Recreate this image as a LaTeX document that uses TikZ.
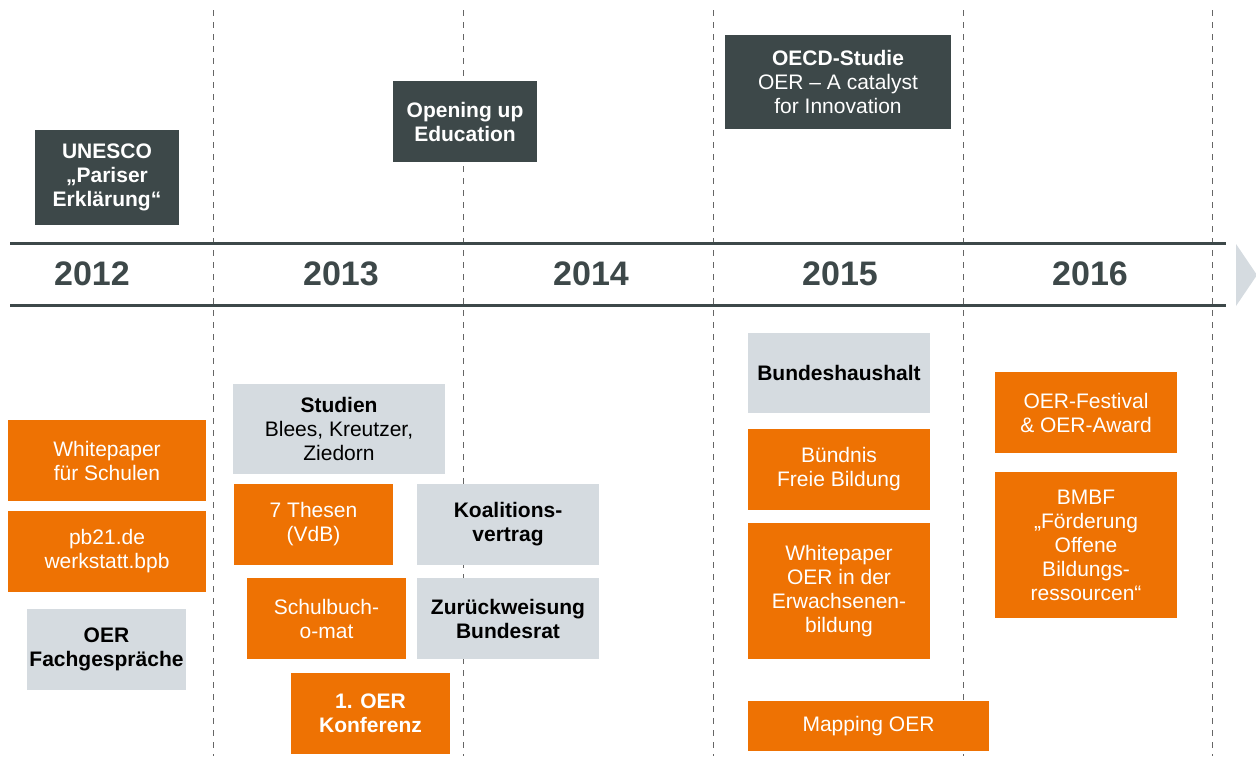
\documentclass[tikz,border=0pt]{standalone}
\usepackage{fontspec}
\setmainfont{Liberation Sans}
\definecolor{oerorange}{HTML}{EE7203}
\definecolor{oergray}{HTML}{D5DBE0}
\definecolor{oerdark}{HTML}{3D4849}
\tikzset{
  box/.style={shape=rectangle,inner sep=0pt,align=center,font=\fontsize{10.5}{12}\selectfont},
  orangebox/.style={box,fill=oerorange,text=white},
  graybox/.style={box,fill=oergray,text=black},
  darkbox/.style={box,fill=oerdark,text=white,font=\fontsize{10.5}{12}\selectfont\bfseries},
  yearlabel/.style={text=oerdark,font=\fontsize{17}{20}\selectfont\bfseries}
}
\begin{document}
\begin{tikzpicture}[x=0.5pt,y=-0.5pt]
\useasboundingbox (0,0) rectangle (1256,756);
\foreach \x in {213,463,713,963,1212}
  \draw [gray!80!black,line width=0.5pt,dash pattern=on 3pt off 3pt] (\x,10) -- (\x,756);
\coordinate (l1) at (10,243);
\coordinate (r1) at (1226,243);
\coordinate (l2) at (10,305);
\coordinate (r2) at (1226,305);
\draw [oerdark,line width=1.5pt] (l1) -- (r1);
\draw [oerdark,line width=1.5pt] (l2) -- (r2);
\fill [oergray] (1236,244) -- (1257,275) -- (1236,306) -- cycle;
\node (y2012) at (92,274) [yearlabel] {2012};
\node (y2013) at (341,274) [yearlabel] {2013};
\node (y2014) at (591,274) [yearlabel] {2014};
\node (y2015) at (840,274) [yearlabel] {2015};
\node (y2016) at (1090,274) [yearlabel] {2016};
% above the line
\node (unesco) at (107,177.5) [darkbox,minimum width=72pt,minimum height=47.5pt] {UNESCO\\„Pariser\\Erklärung“};
\node (opening) at (465,121.5) [darkbox,minimum width=72pt,minimum height=40.5pt] {Opening up\\Education};
\node (oecd) at (838,82) [darkbox,minimum width=113pt,minimum height=47pt] {OECD-Studie\\\mdseries OER – A catalyst\\\mdseries for Innovation};
% 2012
\node (white) at (107,460.5) [orangebox,minimum width=99pt,minimum height=40.5pt] {Whitepaper\\für Schulen};
\node (pb) at (107,551.5) [orangebox,minimum width=99pt,minimum height=40.5pt] {pb21.de\\werkstatt.bpb};
\node (fach) at (106.5,649.5) [graybox,minimum width=79.5pt,minimum height=40.5pt,font=\fontsize{10.5}{12}\selectfont\bfseries] {OER\\Fachgespräche};
% 2013 / 2014
\node (studien) at (339,429) [graybox,minimum width=106pt,minimum height=45pt] {\textbf{Studien}\\Blees, Kreutzer,\\Ziedorn};
\node (thesen) at (313.5,524.5) [orangebox,minimum width=79.5pt,minimum height=40.5pt] {7 Thesen\\(VdB)};
\node (koal) at (508,524.5) [graybox,minimum width=91pt,minimum height=40.5pt,font=\fontsize{10.5}{12}\selectfont\bfseries] {Koalitions-\\vertrag};
\node (schulbuch) at (326.5,618.5) [orangebox,minimum width=79.5pt,minimum height=40.5pt] {Schulbuch-\\o-mat};
\node (zurueck) at (508,618.5) [graybox,minimum width=91pt,minimum height=40.5pt,font=\fontsize{10.5}{12}\selectfont\bfseries] {Zurückweisung\\Bundesrat};
\node (konf) at (370.5,713.5) [orangebox,minimum width=79.5pt,minimum height=40.5pt,font=\fontsize{10.5}{12}\selectfont\bfseries] {1. OER\\Konferenz};
% 2015
\node (haushalt) at (839,373) [graybox,minimum width=91pt,minimum height=40pt,font=\fontsize{10.5}{12}\selectfont\bfseries] {Bundeshaushalt};
\node (buendnis) at (839,469.5) [orangebox,minimum width=91pt,minimum height=40.5pt] {Bündnis\\Freie Bildung};
\node (whiteerw) at (839,591) [orangebox,minimum width=91pt,minimum height=68pt] {Whitepaper\\OER in der\\Erwachsenen-\\bildung};
\node (mapping) at (868.5,726) [orangebox,minimum width=120.5pt,minimum height=25pt] {Mapping OER};
% 2016
\node (festival) at (1086,412.5) [orangebox,minimum width=91pt,minimum height=40.5pt] {OER-Festival\\\& OER-Award};
\node (bmbf) at (1086,545) [orangebox,minimum width=91pt,minimum height=73pt] {BMBF\\„Förderung\\Offene\\Bildungs-\\ressourcen“};
\end{tikzpicture}
\end{document}
